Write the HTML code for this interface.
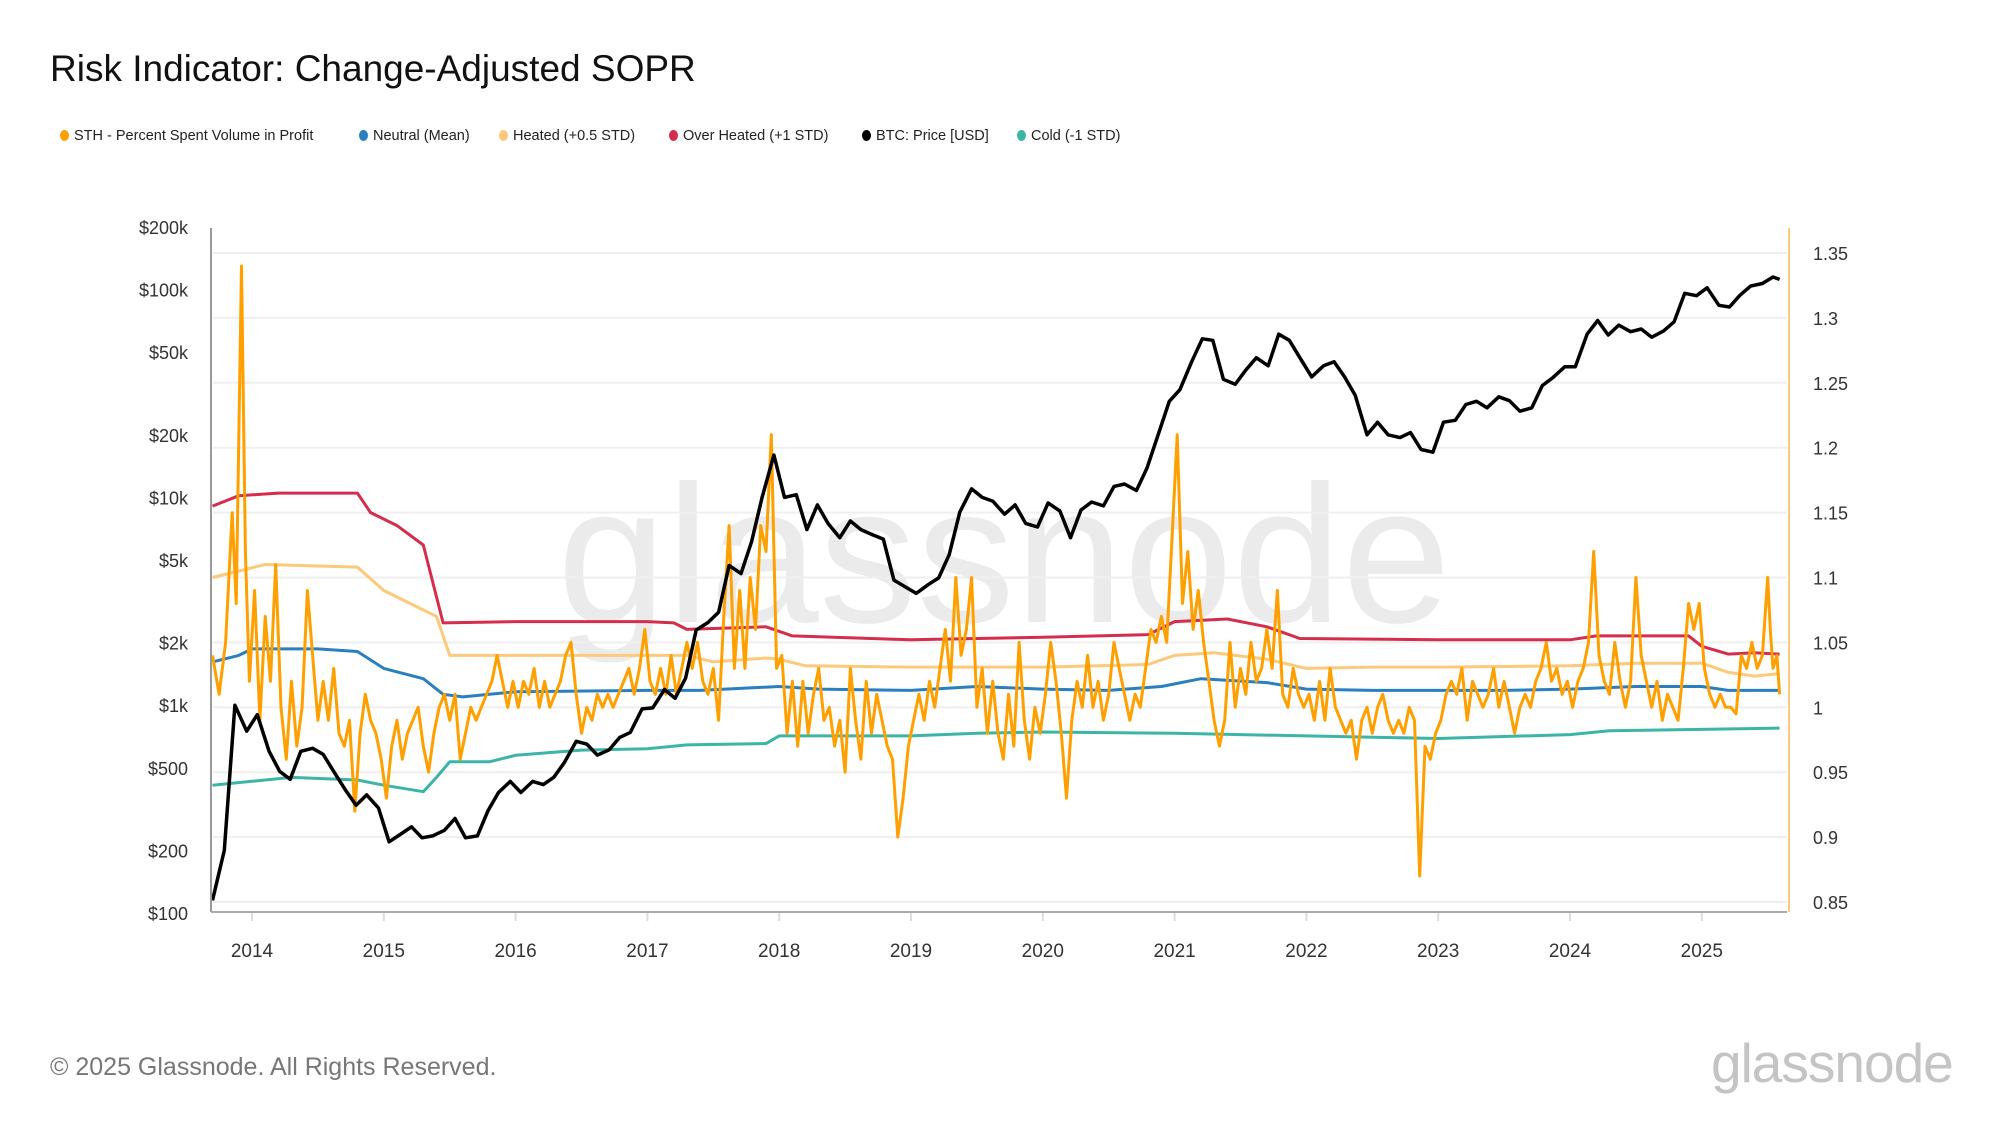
<!DOCTYPE html>
<html><head><meta charset="utf-8"><style>
html,body{margin:0;padding:0;background:#fff;}
body{width:2000px;height:1125px;position:relative;overflow:hidden;font-family:"Liberation Sans",sans-serif;}
.t{position:absolute;white-space:nowrap;}
.leg{position:absolute;top:128px;font-size:14.5px;color:#222;white-space:nowrap;}
.leg i{display:inline-block;width:9px;height:11px;border-radius:50%;margin-right:5px;vertical-align:-1px;}
</style></head><body>
<div class="t" style="left:50px;top:48px;font-size:37px;color:#111;">Risk Indicator: Change-Adjusted SOPR</div>
<div class="leg" style="left:60px"><i style="background:#ffa000"></i>STH - Percent Spent Volume in Profit</div>
<div class="leg" style="left:359px"><i style="background:#2a7fc0"></i>Neutral (Mean)</div>
<div class="leg" style="left:499px"><i style="background:#fdc97a"></i>Heated (+0.5 STD)</div>
<div class="leg" style="left:669px"><i style="background:#d42e4c"></i>Over Heated (+1 STD)</div>
<div class="leg" style="left:862px"><i style="background:#000"></i>BTC: Price [USD]</div>
<div class="leg" style="left:1017px"><i style="background:#3cb5a7"></i>Cold (-1 STD)</div>
<svg id="chart" width="2000" height="1125" style="position:absolute;left:0;top:0"></svg>
<div class="t" style="left:50px;top:1053px;font-size:25px;color:#777;">© 2025 Glassnode. All Rights Reserved.</div>
<div class="t" style="left:1711px;top:1031px;font-size:55px;color:#c4c4c4;letter-spacing:-1px;">glassnode</div>
<script>
const yearTicks=[2014,2015,2016,2017,2018,2019,2020,2021,2022,2023,2024,2025];
const leftTicks=[200000,100000,50000,20000,10000,5000,2000,1000,500,200,100];
const leftTickLabels=["$200k","$100k","$50k","$20k","$10k","$5k","$2k","$1k","$500","$200","$100"];
const rightTicks=[1.35,1.3,1.25,1.2,1.15,1.1,1.05,1,0.95,0.9,0.85];
const rightTickLabels=["1.35","1.3","1.25","1.2","1.15","1.1","1.05","1","0.95","0.9","0.85"];
const priceDates=[2013.70,2013.79,2013.87,2013.96,2014.04,2014.13,2014.21,2014.29,2014.37,2014.46,2014.54,2014.62,2014.71,2014.79,2014.87,2014.96,2015.04,2015.13,2015.21,2015.29,2015.37,2015.46,2015.54,2015.62,2015.71,2015.79,2015.87,2015.96,2016.04,2016.13,2016.21,2016.29,2016.37,2016.46,2016.54,2016.62,2016.71,2016.79,2016.87,2016.96,2017.04,2017.13,2017.21,2017.29,2017.37,2017.46,2017.54,2017.62,2017.71,2017.79,2017.87,2017.96,2018.04,2018.13,2018.21,2018.29,2018.37,2018.46,2018.54,2018.62,2018.71,2018.79,2018.87,2018.96,2019.04,2019.13,2019.21,2019.29,2019.37,2019.46,2019.54,2019.62,2019.71,2019.79,2019.87,2019.96,2020.04,2020.13,2020.21,2020.29,2020.37,2020.46,2020.54,2020.62,2020.71,2020.79,2020.87,2020.96,2021.04,2021.13,2021.21,2021.29,2021.37,2021.46,2021.54,2021.62,2021.71,2021.79,2021.87,2021.96,2022.04,2022.13,2022.21,2022.29,2022.37,2022.46,2022.54,2022.62,2022.71,2022.79,2022.87,2022.96,2023.04,2023.13,2023.21,2023.29,2023.37,2023.46,2023.54,2023.62,2023.71,2023.79,2023.87,2023.96,2024.04,2024.13,2024.21,2024.29,2024.37,2024.46,2024.54,2024.62,2024.71,2024.79,2024.87,2024.96,2025.04,2025.13,2025.21,2025.29,2025.37,2025.46,2025.54,2025.59];
const priceValues=[115,200,1000,750,900,600,480,440,600,620,580,480,390,330,370,320,220,240,260,230,235,250,285,230,235,310,380,430,380,430,415,450,530,670,650,575,610,700,740,960,970,1190,1080,1350,2300,2500,2800,4700,4300,6100,10000,16000,10000,10300,7000,9200,7500,6400,7700,7000,6600,6300,4000,3700,3450,3800,4100,5300,8500,11000,10000,9600,8300,9200,7500,7200,9400,8600,6400,8700,9500,9100,11300,11600,10800,13800,19600,29000,33000,45000,58000,57000,37000,35000,41000,47000,43000,61000,57000,46000,38000,43000,45000,38000,31000,20000,23000,20000,19400,20500,17000,16500,23000,23500,28000,29000,27000,30500,29200,26000,27000,34500,37700,42500,42500,61000,71000,60500,67500,62700,64600,59000,63300,70000,96000,93500,102000,84000,82500,94000,104000,107000,115000,112000];
const soprDates=[2013.70,2013.75,2013.80,2013.85,2013.88,2013.92,2013.95,2013.98,2014.02,2014.06,2014.10,2014.14,2014.18,2014.22,2014.26,2014.30,2014.34,2014.38,2014.42,2014.46,2014.50,2014.54,2014.58,2014.62,2014.66,2014.70,2014.74,2014.78,2014.82,2014.86,2014.90,2014.94,2014.98,2015.02,2015.06,2015.10,2015.14,2015.18,2015.22,2015.26,2015.30,2015.34,2015.38,2015.42,2015.46,2015.50,2015.54,2015.58,2015.62,2015.66,2015.70,2015.74,2015.78,2015.82,2015.86,2015.90,2015.94,2015.98,2016.02,2016.06,2016.10,2016.14,2016.18,2016.22,2016.26,2016.30,2016.34,2016.38,2016.42,2016.46,2016.50,2016.54,2016.58,2016.62,2016.66,2016.70,2016.74,2016.78,2016.82,2016.86,2016.90,2016.94,2016.98,2017.02,2017.06,2017.10,2017.14,2017.18,2017.22,2017.26,2017.30,2017.34,2017.38,2017.42,2017.46,2017.50,2017.54,2017.58,2017.62,2017.66,2017.70,2017.74,2017.78,2017.82,2017.86,2017.90,2017.94,2017.98,2018.02,2018.06,2018.10,2018.14,2018.18,2018.22,2018.26,2018.30,2018.34,2018.38,2018.42,2018.46,2018.50,2018.54,2018.58,2018.62,2018.66,2018.70,2018.74,2018.78,2018.82,2018.86,2018.90,2018.94,2018.98,2019.02,2019.06,2019.10,2019.14,2019.18,2019.22,2019.26,2019.30,2019.34,2019.38,2019.42,2019.46,2019.50,2019.54,2019.58,2019.62,2019.66,2019.70,2019.74,2019.78,2019.82,2019.86,2019.90,2019.94,2019.98,2020.02,2020.06,2020.10,2020.14,2020.18,2020.22,2020.26,2020.30,2020.34,2020.38,2020.42,2020.46,2020.50,2020.54,2020.58,2020.62,2020.66,2020.70,2020.74,2020.78,2020.82,2020.86,2020.90,2020.94,2020.98,2021.02,2021.06,2021.10,2021.14,2021.18,2021.22,2021.26,2021.30,2021.34,2021.38,2021.42,2021.46,2021.50,2021.54,2021.58,2021.62,2021.66,2021.70,2021.74,2021.78,2021.82,2021.86,2021.90,2021.94,2021.98,2022.02,2022.06,2022.10,2022.14,2022.18,2022.22,2022.26,2022.30,2022.34,2022.38,2022.42,2022.46,2022.50,2022.54,2022.58,2022.62,2022.66,2022.70,2022.74,2022.78,2022.82,2022.86,2022.90,2022.94,2022.98,2023.02,2023.06,2023.10,2023.14,2023.18,2023.22,2023.26,2023.30,2023.34,2023.38,2023.42,2023.46,2023.50,2023.54,2023.58,2023.62,2023.66,2023.70,2023.74,2023.78,2023.82,2023.86,2023.90,2023.94,2023.98,2024.02,2024.06,2024.10,2024.14,2024.18,2024.22,2024.26,2024.30,2024.34,2024.38,2024.42,2024.46,2024.50,2024.54,2024.58,2024.62,2024.66,2024.70,2024.74,2024.78,2024.82,2024.86,2024.90,2024.94,2024.98,2025.02,2025.06,2025.10,2025.14,2025.18,2025.22,2025.26,2025.30,2025.34,2025.38,2025.42,2025.46,2025.50,2025.52,2025.54,2025.57,2025.59];
const soprValues=[1.04,1.01,1.05,1.15,1.08,1.34,1.12,1.02,1.09,0.99,1.07,1.02,1.11,1.0,0.96,1.02,0.97,1.00,1.09,1.04,0.99,1.02,0.99,1.03,0.98,0.97,0.99,0.92,0.98,1.01,0.99,0.98,0.96,0.93,0.97,0.99,0.96,0.98,0.99,1.00,0.97,0.95,0.98,1.00,1.01,0.99,1.01,0.96,0.98,1.00,0.99,1.00,1.01,1.02,1.04,1.02,1.00,1.02,1.00,1.02,1.01,1.03,1.00,1.02,1.00,1.01,1.02,1.04,1.05,1.01,0.98,1.00,0.99,1.01,1.00,1.01,1.00,1.01,1.02,1.03,1.01,1.03,1.06,1.02,1.01,1.03,1.01,1.04,1.01,1.03,1.05,1.03,1.05,1.02,1.01,1.03,0.99,1.07,1.14,1.03,1.09,1.03,1.10,1.06,1.14,1.12,1.21,1.03,1.04,0.98,1.02,0.97,1.02,0.98,1.01,1.03,0.99,1.00,0.97,0.99,0.95,1.03,0.99,0.96,1.02,0.98,1.01,0.99,0.97,0.96,0.90,0.93,0.97,0.99,1.01,0.99,1.02,1.00,1.03,1.06,1.02,1.10,1.04,1.06,1.10,1.00,1.03,0.98,1.02,0.98,0.96,1.01,0.97,1.05,0.99,0.96,1.00,0.98,1.01,1.05,1.02,0.98,0.93,0.99,1.02,1.00,1.04,1.00,1.02,0.99,1.01,1.05,1.03,1.01,0.99,1.01,1.00,1.03,1.06,1.05,1.07,1.05,1.13,1.21,1.08,1.12,1.06,1.09,1.05,1.02,0.99,0.97,0.99,1.05,1.00,1.03,1.01,1.05,1.02,1.03,1.06,1.03,1.09,1.01,1.00,1.03,1.01,1.00,1.01,0.99,1.02,0.99,1.03,1.00,0.99,0.98,0.99,0.96,0.99,1.00,0.98,1.00,1.01,0.99,0.98,0.99,0.98,1.00,0.99,0.87,0.97,0.96,0.98,0.99,1.01,1.02,1.01,1.03,0.99,1.02,1.01,1.00,1.01,1.03,1.00,1.02,1.00,0.98,1.00,1.01,1.00,1.02,1.03,1.05,1.02,1.03,1.01,1.02,1.00,1.02,1.03,1.05,1.12,1.04,1.02,1.01,1.05,1.02,1.00,1.02,1.10,1.04,1.02,1.00,1.02,0.99,1.01,1.00,0.99,1.03,1.08,1.06,1.08,1.03,1.01,1.00,1.01,1.00,1.00,0.995,1.04,1.03,1.05,1.03,1.04,1.10,1.06,1.03,1.04,1.01];
const meanDates=[2013.7,2013.9,2014.0,2014.5,2014.8,2015.0,2015.3,2015.45,2015.6,2016.0,2017.0,2017.4,2017.8,2018.0,2018.3,2019.0,2019.5,2020.0,2020.5,2020.9,2021.2,2021.7,2022.0,2022.5,2023.0,2023.5,2024.0,2024.5,2025.0,2025.2,2025.59];
const meanValues=[1.035,1.04,1.045,1.045,1.043,1.03,1.022,1.01,1.008,1.012,1.013,1.013,1.015,1.016,1.014,1.013,1.016,1.014,1.013,1.016,1.022,1.019,1.014,1.013,1.013,1.013,1.014,1.016,1.016,1.013,1.013];
const heatedDates=[2013.7,2013.9,2014.1,2014.8,2015.0,2015.3,2015.4,2015.5,2016.0,2017.0,2017.3,2017.5,2017.9,2018.0,2018.2,2019.0,2020.0,2020.8,2021.0,2021.3,2021.7,2022.0,2022.5,2023.0,2024.0,2024.5,2025.0,2025.2,2025.4,2025.59];
const heatedValues=[1.10,1.105,1.11,1.108,1.09,1.075,1.07,1.04,1.04,1.04,1.04,1.035,1.038,1.037,1.032,1.031,1.031,1.033,1.04,1.042,1.037,1.03,1.031,1.031,1.032,1.034,1.034,1.027,1.024,1.026];
const overDates=[2013.7,2013.9,2014.2,2014.8,2014.9,2015.1,2015.3,2015.45,2016.0,2017.0,2017.2,2017.3,2017.9,2018.1,2019.0,2020.0,2020.8,2021.0,2021.4,2021.7,2021.95,2023.0,2024.0,2024.2,2024.9,2025.0,2025.2,2025.4,2025.59];
const overValues=[1.155,1.163,1.165,1.165,1.15,1.14,1.125,1.065,1.066,1.066,1.065,1.06,1.062,1.055,1.052,1.054,1.056,1.066,1.068,1.062,1.053,1.052,1.052,1.055,1.055,1.047,1.041,1.042,1.041];
const coldDates=[2013.7,2014.0,2014.3,2014.8,2015.0,2015.3,2015.4,2015.5,2015.8,2016.0,2016.5,2017.0,2017.3,2017.9,2018.0,2019.0,2019.5,2020.0,2021.0,2021.5,2022.0,2023.0,2024.0,2024.3,2025.0,2025.59];
const coldValues=[0.94,0.943,0.946,0.944,0.94,0.935,0.946,0.958,0.958,0.963,0.967,0.968,0.971,0.972,0.978,0.978,0.98,0.981,0.98,0.979,0.978,0.976,0.979,0.982,0.983,0.984];

const svg=document.getElementById('chart');
const NS='http://www.w3.org/2000/svg';
const X0=211,X1=1787,YT=228,YB=912;
function xs(t){return 252+(t-2014)*131.8;}
function yl(v){return 913-207.8*Math.log10(v/100);}
function yr(v){return 902-(v-0.85)/0.05*64.9;}
function mk(tag,attrs){const e=document.createElementNS(NS,tag);for(const k in attrs)e.setAttribute(k,attrs[k]);svg.appendChild(e);return e;}
let wm=mk('text',{x:1004,y:622,'text-anchor':'middle','font-size':196,fill:'#ebebeb','font-family':'Liberation Sans, sans-serif'});
wm.textContent='glassnode';


rightTicks.forEach((v,i)=>{
  const y=yr(v);
  const g=mk('line',{x1:X0+2,x2:X1,y1:y,y2:y,stroke:'#efefef','stroke-width':2});
  
  
  const t=mk('text',{x:1813,y:y+7,'font-size':18,fill:'#333','font-family':'Liberation Sans, sans-serif'});
  t.textContent=rightTickLabels[i];
  
  
});
leftTicks.forEach((v,i)=>{
  const t=mk('text',{x:188,y:yl(v)+7,'font-size':18,fill:'#333','text-anchor':'end','font-family':'Liberation Sans, sans-serif'});
  t.textContent=leftTickLabels[i];
  
  
});
yearTicks.forEach(yv=>{
  const x=xs(yv);
  const tk=mk('line',{x1:x,x2:x,y1:YB,y2:YB+9,stroke:'#ddd','stroke-width':2});
  
  
  const t=mk('text',{x:x,y:957,'font-size':19,fill:'#333','text-anchor':'middle','font-family':'Liberation Sans, sans-serif'});
  t.textContent=String(yv);
  
  
});
function series(dates,vals,yf,color,w,name){
  const d=dates.map((t,i)=>(i?'L':'M')+xs(t).toFixed(1)+','+yf(vals[i]).toFixed(1)).join('');
  const p=mk('path',{d:d,fill:'none',stroke:color,'stroke-width':w,'stroke-linejoin':'round'});
  
  
}
series(coldDates,coldValues,yr,'#3cb5a7',3,'cold-line');
series(meanDates,meanValues,yr,'#2a7fc0',3,'neutral-mean-line');
series(heatedDates,heatedValues,yr,'#fdc97a',3,'heated-line');
series(overDates,overValues,yr,'#d42e4c',3,'overheated-line');
series(soprDates,soprValues,yr,'#ffa000',3,'sth-spent-volume-line');
series(priceDates,priceValues,yl,'#000',3.5,'btc-price-line');
const la=mk('line',{x1:X0,x2:X0,y1:YT,y2:YB,stroke:'#999','stroke-width':2});


const ra=mk('line',{x1:1789,x2:1789,y1:YT,y2:YB,stroke:'#fdc97a','stroke-width':2});


const ba=mk('line',{x1:X0,x2:X1,y1:YB,y2:YB,stroke:'#aaa','stroke-width':2});


</script>
</body></html>
